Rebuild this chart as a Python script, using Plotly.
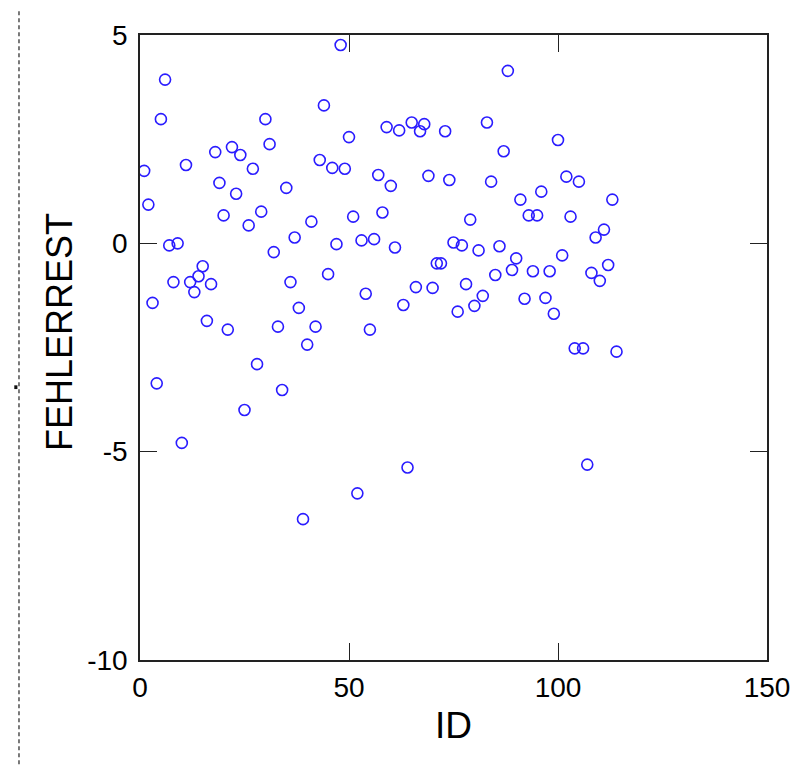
import plotly.graph_objects as go

ids = list(range(1, 115))
fehlerrest = [
    1.74, 0.93, -1.43, -3.36, 2.98, 3.93, -0.05, -0.93, 0.00, -4.79,
    1.88, -0.93, -1.17, -0.79, -0.55, -1.86, -0.98, 2.19, 1.45, 0.67,
    -2.07, 2.31, 1.19, 2.12, -4.00, 0.43, 1.79, -2.90, 0.76, 2.98,
    2.38, -0.21, -2.00, -3.52, 1.33, -0.93, 0.14, -1.55, -6.62, -2.43,
    0.52, -2.00, 2.00, 3.31, -0.74, 1.81, -0.02, 4.76, 1.79, 2.55,
    0.64, -6.00, 0.07, -1.21, -2.07, 0.10, 1.64, 0.74, 2.79, 1.38,
    -0.10, 2.71, -1.48, -5.38, 2.90, -1.05, 2.69, 2.86, 1.62, -1.07,
    -0.48, -0.48, 2.69, 1.52, 0.02, -1.64, -0.05, -0.98, 0.57, -1.50,
    -0.17, -1.26, 2.90, 1.48, -0.76, -0.07, 2.21, 4.14, -0.64, -0.36,
    1.05, -1.33, 0.67, -0.67, 0.67, 1.24, -1.31, -0.67, -1.69, 2.48,
    -0.29, 1.60, 0.64, -2.52, 1.48, -2.52, -5.31, -0.71, 0.14, -0.90,
    0.33, -0.52, 1.05, -2.60,
]

x_ticks = [0, 50, 100, 150]
y_ticks = [-10, -5, 0, 5]

font = "Liberation Sans, Arial, sans-serif"

fig = go.Figure()
fig.add_trace(go.Scatter(
    x=ids, y=fehlerrest, mode="markers",
    marker=dict(symbol="circle-open", size=11, color="#2a1cff",
                line=dict(width=1.6, color="#2a1cff")),
    showlegend=False, hoverinfo="x+y",
))

axis_common = dict(
    showgrid=False, zeroline=False, showline=True, linecolor="#222",
    linewidth=1.6, mirror="ticks", ticks="inside", ticklen=17,
    tickwidth=1.4, tickcolor="#222",
    tickfont=dict(family=font, size=28, color="#000"),
)

fig.update_xaxes(range=[0, 150], tickvals=x_ticks,
                 ticktext=[str(v) for v in x_ticks],
                 ticklabelstandoff=2, **axis_common)
fig.update_yaxes(range=[-10, 5], tickvals=y_ticks,
                 ticktext=[str(v) for v in y_ticks],
                 ticklabelstandoff=5, **axis_common)

fig.update_layout(
    width=795, height=757,
    margin=dict(l=132, r=36, t=24, b=105),
    paper_bgcolor="white", plot_bgcolor="white",
    font=dict(family=font, color="#000"),
    annotations=[
        dict(text="FEHLERREST", xref="paper", yref="paper",
             x=-0.1284, y=0.5255, xanchor="center", yanchor="middle",
             textangle=-90, showarrow=False,
             font=dict(family=font, size=36, color="#000")),
        dict(text="ID", xref="paper", yref="paper",
             x=0.5, y=-0.1043, xanchor="center", yanchor="middle",
             showarrow=False,
             font=dict(family=font, size=37, color="#000")),
    ],
    shapes=[
        dict(type="line", xref="paper", yref="paper",
             x0=-0.193, x1=-0.193, y0=1.038, y1=-0.167,
             line=dict(color="#333", width=1.3, dash="4px,3px")),
        dict(type="rect", xref="paper", yref="paper",
             x0=-0.2005, x1=-0.1955, y0=0.4395, y1=0.4335,
             line=dict(width=0), fillcolor="#111"),
    ],
)

fig.write_html("out.html")
